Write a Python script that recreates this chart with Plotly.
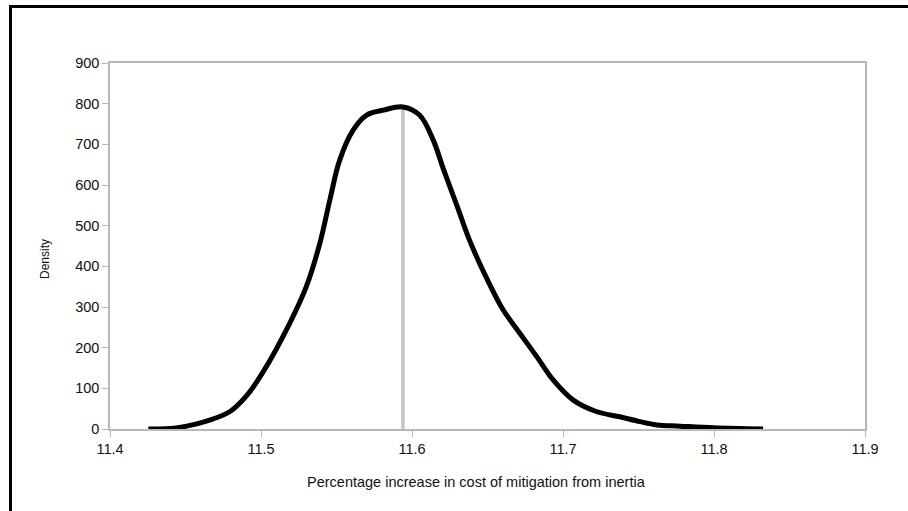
import plotly.graph_objects as go

# Density curve
x_vals = [11.4254, 11.446, 11.466, 11.4795, 11.4905, 11.5015, 11.519, 11.530,
          11.539, 11.5457, 11.552, 11.561, 11.570, 11.581, 11.594, 11.605, 11.614,
          11.621, 11.630, 11.638, 11.649, 11.660, 11.6715, 11.6826, 11.6936, 11.7068,
          11.722, 11.7377, 11.751, 11.762, 11.7775, 11.80, 11.8325]
density = [0, 4, 22, 43, 82, 141, 260, 350,
           457, 565, 660, 735, 772, 784, 792, 772, 711,
           637, 547, 465, 374, 295, 235, 178, 120, 71,
           43, 30, 18, 10, 7, 3, 0]

# Vertical marker (mean / mode)
marker_x = [11.594, 11.594]
marker_y = [0, 790]

x_ticks = [11.4, 11.5, 11.6, 11.7, 11.8, 11.9]
y_ticks = [0, 100, 200, 300, 400, 500, 600, 700, 800, 900]

FONT = "Liberation Sans, Arial, sans-serif"
AXIS_COL = "#b8b8b8"
TXT = "#111111"

fig = go.Figure()
fig.add_trace(go.Scatter(x=marker_x, y=marker_y, mode="lines",
                         line=dict(color="#c6c6c6", width=3.5), showlegend=False,
                         hoverinfo="skip"))
fig.add_trace(go.Scatter(x=x_vals, y=density, mode="lines",
                         line=dict(color="#000000", width=5, shape="spline", smoothing=1.0),
                         showlegend=False))

fig.update_layout(
    width=908, height=511,
    margin=dict(l=110, r=43, t=63, b=82),
    paper_bgcolor="white", plot_bgcolor="white",
    font=dict(family=FONT, size=14.5, color=TXT),
    showlegend=False,
    xaxis=dict(range=[11.4, 11.9], tickvals=x_ticks, ticktext=[f"{v:.1f}" for v in x_ticks],
               showgrid=False, zeroline=False, showline=True, linecolor=AXIS_COL, linewidth=1.5,
               mirror=True, ticks="outside", ticklen=6, tickcolor=AXIS_COL, tickwidth=1,
               tickfont=dict(size=14.5, family=FONT, color=TXT)),
    yaxis=dict(range=[0, 900], tickvals=y_ticks,
               showgrid=False, zeroline=False, showline=True, linecolor=AXIS_COL, linewidth=1.5,
               mirror=True, ticks="outside", ticklen=6, tickcolor=AXIS_COL, tickwidth=1,
               tickfont=dict(size=14.5, family=FONT, color=TXT)),
    annotations=[
        dict(text="Percentage increase in cost of mitigation from inertia", xref="paper", yref="paper",
             x=(476 - 110) / 755, y=-(482 - 429) / 366, xanchor="center", yanchor="middle",
             showarrow=False, font=dict(size=14.5, family=FONT, color=TXT)),
        dict(text="Density", xref="paper", yref="paper",
             x=-(110 - 45) / 755, y=(429 - 259) / 366, xanchor="center", yanchor="middle",
             textangle=-90, showarrow=False, font=dict(size=12, family=FONT, color=TXT)),
    ],
    shapes=[
        dict(type="rect", xref="paper", yref="paper",
             x0=-(110 - 10.5) / 755, x1=1.2, y0=-0.4, y1=(429 - 6.5) / 366,
             line=dict(color="#000000", width=3), fillcolor="rgba(0,0,0,0)", layer="above"),
    ],
)

fig.write_html("out.html")
